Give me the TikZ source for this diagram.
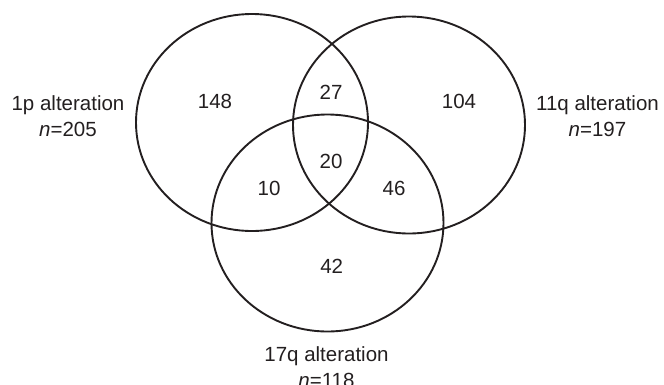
\documentclass[tikz,border=0pt]{standalone}
\usepackage{fontspec}
\setmainfont{Liberation Sans}
\usetikzlibrary{shapes.geometric}

\definecolor{ink}{HTML}{231F20}
\tikzset{
    setring/.style={draw=ink, ellipse, line width=1.9pt, inner sep=0pt,
        minimum width=232pt, minimum height=217pt},
    setname/.style={align=center, text=ink, inner sep=0pt,
        font=\fontsize{20.5}{25.5}\selectfont},
    setcount/.style={text=ink, inner sep=0pt, font=\fontsize{20.5}{24}\selectfont}
}

\begin{document}
\begin{tikzpicture}[x=1pt, y=-1pt]
    % fix page size
    \useasboundingbox (0,0) rectangle (664,384);
    % draw the three sets
    \node[setring] (ring1p)  at (252,122.5) {};
    \node[setring] (ring11q) at (409,125) {};
    \node[setring] (ring17q) at (327.5,223) {};
    % draw set names
    \node[setname] (name1p)  at (68,116)    {1p alteration\\\textit{n}=205};
    \node[setname] (name11q) at (597.5,116) {11q alteration\\\textit{n}=197};
    \node[setname] (name17q) at (326.5,367) {17q alteration\\\textit{n}=118};
    % draw counts
    \foreach \cx/\cy/\num in {215/101.7/148, 459/101.7/104, 331/92/27,
                             331/161/20, 269/188/10, 394/188/46, 331.7/266.7/42}
        \node[setcount] (count\num) at (\cx,\cy) {\num};
\end{tikzpicture}
\end{document}
